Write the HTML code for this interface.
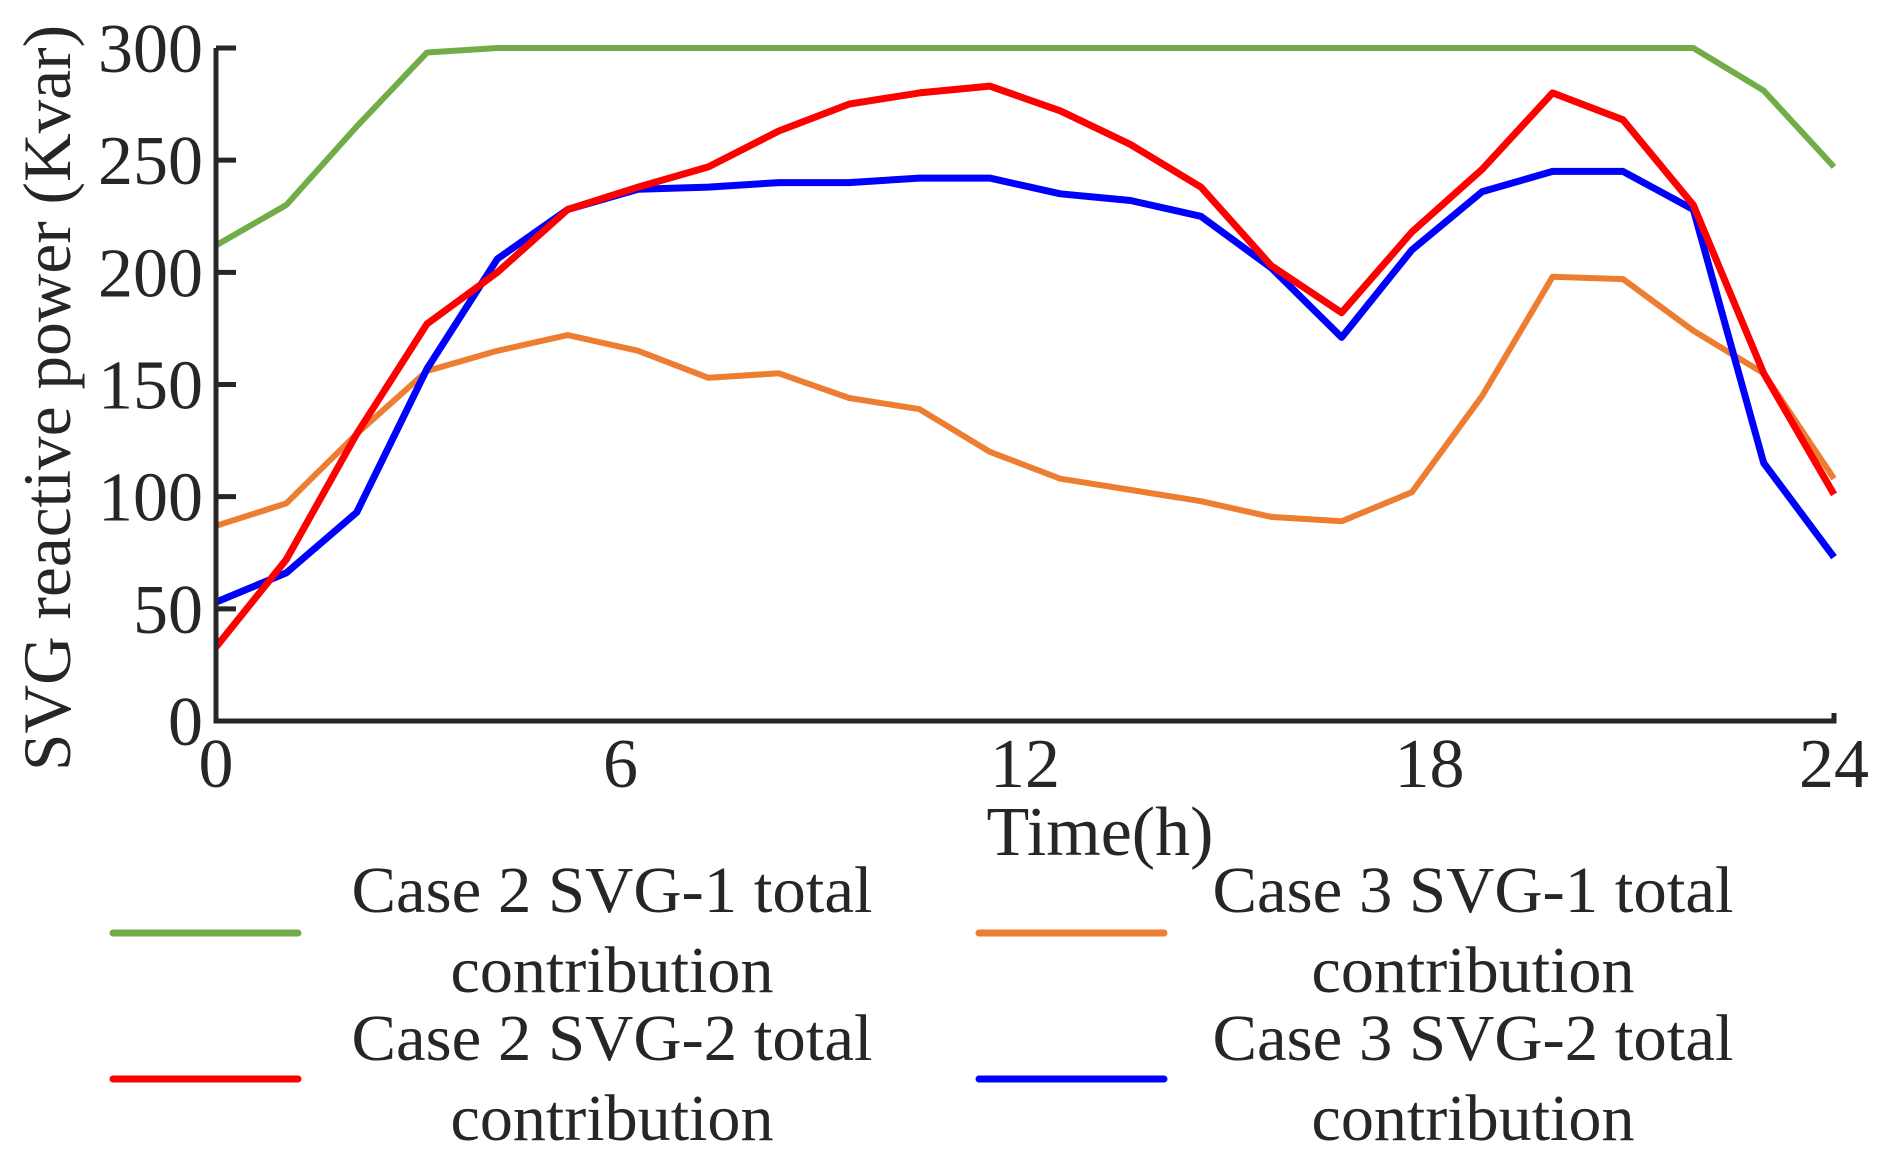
<!DOCTYPE html>
<html><head><meta charset="utf-8"><style>
body{margin:0;background:#fff}
svg{display:block}
text{font-family:"Liberation Serif","Times New Roman",serif;fill:#262626}
</style></head><body>
<svg id="chart" width="1891" height="1169" viewBox="0 0 1891 1169">
<g id="plot"></g>
<g id="legend"></g>
</svg>
<script>
const hours = Array.from({length:24},(_, i)=>i*24/23);
const case2Svg1 = [212,230,265,298,300,300,300,300,300,300,300,300,300,300,300,300,300,300,300,300,300,300,281,247];
const case2Svg2 = [33,72,128,177,200,228,238,247,263,275,280,283,272,257,238,203,182,218,246,280,268,230,155,101];
const case3Svg1 = [87,97,128,156,165,172,165,153,155,144,139,120,108,103,98,91,89,102,145,198,197,174,155,108];
const case3Svg2 = [53,66,93,157,206,228,237,238,240,240,242,242,235,232,225,202,171,210,236,245,245,228,115,73];
const yTicks = [0,50,100,150,200,250,300];
const xTicks = [0,6,12,18,24];
const seriesNames = ["Case 2 SVG-1 total","Case 3 SVG-1 total","Case 2 SVG-2 total","Case 3 SVG-2 total"];

const NS="http://www.w3.org/2000/svg";
const X0=216,X1=1834,Y0=721,Y1=48;
const xs=v=>X0+(v/24)*(X1-X0);
const ys=v=>Y0-(v/300)*(Y0-Y1);
const plot=document.getElementById('plot');
const legend=document.getElementById('legend');
function mk(tag,attrs,parent){const e=document.createElementNS(NS,tag);for(const k in attrs)e.setAttribute(k,attrs[k]);parent.appendChild(e);return e;}

function drawSeries(vals,color,name,w){
  const d=vals.map((v,i)=>(i?'L':'M')+xs(hours[i]).toFixed(1)+','+ys(v).toFixed(1)).join(' ');
  const p=mk('path',{d:d,fill:'none',stroke:color,'stroke-width':w,'stroke-linejoin':'round'},plot);
  
  
}
drawSeries(case3Svg1,'#ed7d31','series-case3-svg1',6);
drawSeries(case2Svg1,'#70ad47','series-case2-svg1',6);
drawSeries(case3Svg2,'#0000ff','series-case3-svg2',7);
drawSeries(case2Svg2,'#ff0000','series-case2-svg2',7);

const ax=mk('path',{d:`M${X0},${Y1} L${X0},${Y0} L${X1},${Y0} L${X1},${Y0-8}`,fill:'none',stroke:'#262626','stroke-width':5},plot);


yTicks.forEach(v=>{
  const t=mk('line',{x1:X0,x2:X0+20,y1:ys(v),y2:ys(v),stroke:'#262626','stroke-width':5},plot);
  
  
  const l=mk('text',{x:203,y:ys(v)+24,'text-anchor':'end','font-size':70},plot);
  
  
  l.textContent=v;
});
xTicks.forEach(v=>{
  const l=mk('text',{x:xs(v),y:787,'text-anchor':'middle','font-size':70},plot);
  
  
  l.textContent=v;
});
const xt=mk('text',{x:1100,y:855,'text-anchor':'middle','font-size':70},plot);


xt.textContent='Time(h)';
const yt=mk('text',{x:0,y:0,'text-anchor':'middle','font-size':68,textLength:746,lengthAdjust:'spacingAndGlyphs',transform:'translate(70,398) rotate(-90)'},plot);


yt.textContent='SVG reactive power (Kvar)';

const entries=[
  {c:'#70ad47',lx:113,tx:612,ly:933,b:912,n:seriesNames[0]},
  {c:'#ed7d31',lx:979,tx:1473,ly:933,b:912,n:seriesNames[1]},
  {c:'#ff0000',lx:113,tx:612,ly:1079,b:1060,n:seriesNames[2]},
  {c:'#0000ff',lx:979,tx:1473,ly:1079,b:1060,n:seriesNames[3]}
];
entries.forEach(e=>{
  const g=mk('g',{},legend);
  
  
  mk('line',{x1:e.lx,x2:e.lx+185,y1:e.ly,y2:e.ly,stroke:e.c,'stroke-width':7,'stroke-linecap':'round'},g);
  const t1=mk('text',{x:e.tx,y:e.b,'text-anchor':'middle','font-size':66,textLength:521,lengthAdjust:'spacingAndGlyphs'},g);
  t1.textContent=e.n;
  const t2=mk('text',{x:e.tx,y:e.b+80,'text-anchor':'middle','font-size':66,textLength:323,lengthAdjust:'spacingAndGlyphs'},g);
  t2.textContent='contribution';
});
</script>
</body></html>
